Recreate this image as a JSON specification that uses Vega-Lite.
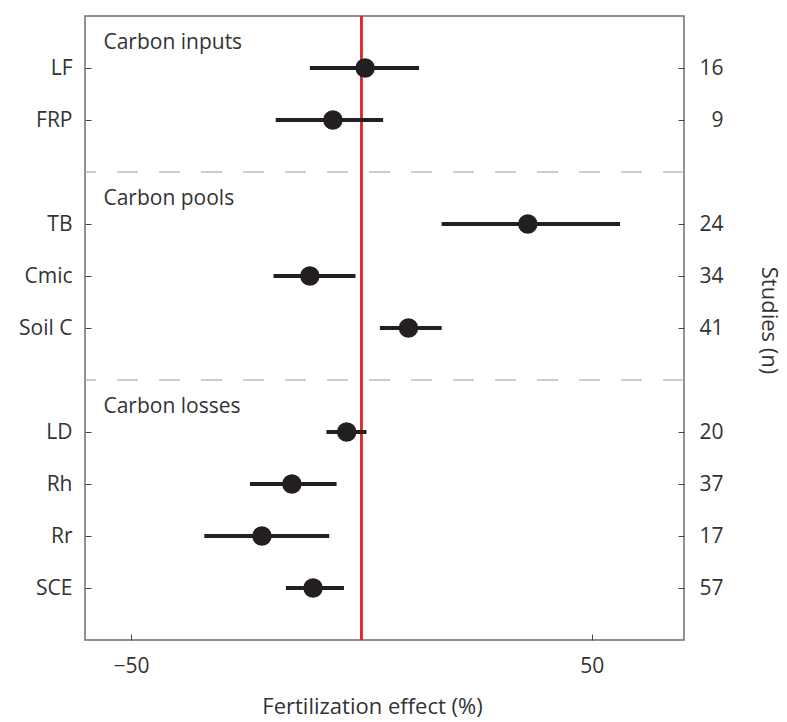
{
  "$schema": "https://vega.github.io/schema/vega-lite/v6.json",
  "width": 599,
  "height": 624,
  "autosize": {"type": "none"},
  "padding": {"left": 85, "top": 16, "right": 103, "bottom": 82},
  "background": "white",
  "config": {
    "font": "Open Sans",
    "view": {"stroke": "#6d6e70", "strokeWidth": 1.5},
    "axis": {
      "domain": false,
      "grid": false,
      "labelFont": "Open Sans",
      "labelFontSize": 21,
      "labelColor": "#333333",
      "tickColor": "#444444",
      "tickSize": -6,
      "tickWidth": 1,
      "titleFont": "Open Sans",
      "titleFontSize": 22,
      "titleFontWeight": "normal",
      "titleColor": "#333333"
    }
  },
  "datasets": {
    "effects": [
      {"outcome": "LF", "group": "Carbon inputs", "n": 16, "effect": 0.8, "lo": -11.2, "hi": 12.5},
      {"outcome": "FRP", "group": "Carbon inputs", "n": 9, "effect": -6.2, "lo": -18.6, "hi": 4.7},
      {"outcome": "TB", "group": "Carbon pools", "n": 24, "effect": 36.1, "lo": 17.4, "hi": 56.1},
      {"outcome": "Cmic", "group": "Carbon pools", "n": 34, "effect": -11.2, "lo": -19.1, "hi": -1.3},
      {"outcome": "Soil C", "group": "Carbon pools", "n": 41, "effect": 10.2, "lo": 4.0, "hi": 17.4},
      {"outcome": "LD", "group": "Carbon losses", "n": 20, "effect": -3.2, "lo": -7.6, "hi": 1.1},
      {"outcome": "Rh", "group": "Carbon losses", "n": 37, "effect": -15.1, "lo": -24.2, "hi": -5.4},
      {"outcome": "Rr", "group": "Carbon losses", "n": 17, "effect": -21.6, "lo": -34.1, "hi": -7.0},
      {"outcome": "SCE", "group": "Carbon losses", "n": 57, "effect": -10.5, "lo": -16.4, "hi": -3.8}
    ],
    "separators": [{"row": "sep1"}, {"row": "sep2"}],
    "groups": [
      {"group": "Carbon inputs", "row": "top"},
      {"group": "Carbon pools", "row": "sep1"},
      {"group": "Carbon losses", "row": "sep2"}
    ]
  },
  "encoding": {
    "x": {
      "type": "quantitative",
      "scale": {"domain": [-60, 70], "nice": false, "zero": false},
      "axis": {
        "values": [-50, 50],
        "title": "Fertilization effect (%)",
        "labelPadding": 21,
        "titlePadding": 20,
        "titleX": 287
      }
    }
  },
  "layer": [
    {
      "encoding": {
        "y": {
          "type": "nominal",
          "scale": {
            "type": "point",
            "padding": 0,
            "domain": ["top", "LF", "FRP", "sep1", "TB", "Cmic", "Soil C", "sep2", "LD", "Rh", "Rr", "SCE", "bottom"]
          },
          "axis": {
            "orient": "left",
            "title": null,
            "values": ["LF", "FRP", "TB", "Cmic", "Soil C", "LD", "Rh", "Rr", "SCE"],
            "labelPadding": 19
          }
        }
      },
      "layer": [
        {
          "data": {"name": "separators"},
          "mark": {"type": "rule", "color": "#8a9fb6", "strokeWidth": 1.2, "strokeDash": [21, 21]},
          "encoding": {"y": {"field": "row"}}
        },
        {
          "data": {"name": "effects"},
          "mark": {"type": "rule", "color": "#e3242b", "strokeWidth": 1.5},
          "encoding": {"x": {"datum": 0}}
        },
        {
          "data": {"name": "effects"},
          "mark": {"type": "rule", "color": "#231f20", "strokeWidth": 4},
          "encoding": {
            "y": {"field": "outcome"},
            "x": {"field": "lo"},
            "x2": {"field": "hi"}
          }
        },
        {
          "data": {"name": "effects"},
          "mark": {"type": "point", "filled": true, "color": "#231f20", "opacity": 1, "size": 380},
          "encoding": {
            "y": {"field": "outcome"},
            "x": {"field": "effect"}
          }
        },
        {
          "data": {"name": "groups"},
          "mark": {"type": "text", "align": "left", "baseline": "alphabetic", "dy": 33, "fontSize": 21, "color": "#333333", "font": "Open Sans"},
          "encoding": {
            "y": {"field": "row"},
            "x": {"datum": -56},
            "text": {"field": "group"}
          }
        }
      ]
    },
    {
      "data": {"name": "effects"},
      "mark": {"type": "point", "opacity": 0},
      "encoding": {
        "x": {"field": "effect"},
        "y": {
          "field": "n",
          "type": "nominal",
          "scale": {
            "type": "point",
            "padding": 0,
            "domain": ["t", 16, 9, "s1", 24, 34, 41, "s2", 20, 37, 17, 57, "b"]
          },
          "axis": {
            "orient": "right",
            "values": [16, 9, 24, 34, 41, 20, 37, 17, 57],
            "labelAlign": "right",
            "labelPadding": 45,
            "title": "Studies (n)",
            "titleAngle": 90,
            "titleY": 304,
            "titlePadding": 33
          }
        }
      }
    }
  ],
  "resolve": {"scale": {"y": "independent"}, "axis": {"y": "independent"}}
}
